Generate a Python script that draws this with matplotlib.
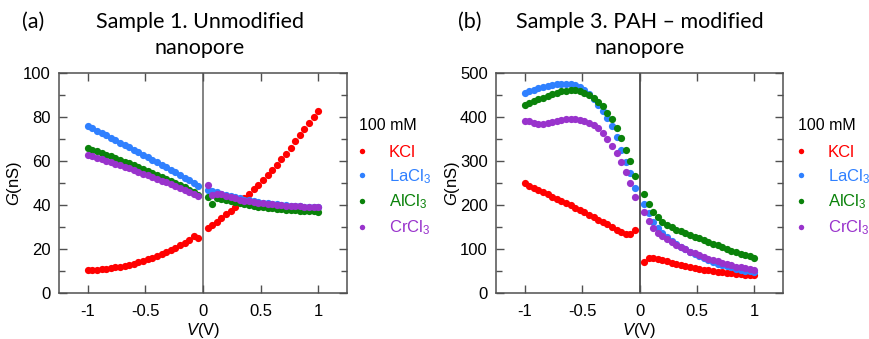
import numpy as np
import matplotlib
matplotlib.use("Agg")
import matplotlib.pyplot as plt

plt.rcParams['font.family'] = ['Liberation Sans', 'DejaVu Sans']
plt.rcParams['mathtext.fontset'] = 'custom'
plt.rcParams['mathtext.rm'] = 'Liberation Sans'
plt.rcParams['mathtext.it'] = 'Liberation Sans:italic'

# -------------------------------------------------------
# DATA
# -------------------------------------------------------

v_neg = [-1.00, -0.96, -0.92, -0.88, -0.84, -0.80, -0.76, -0.72, -0.68,
         -0.64, -0.60, -0.56, -0.52, -0.48, -0.44, -0.40, -0.36, -0.32,
         -0.28, -0.24, -0.20, -0.16, -0.12, -0.08, -0.04]
v_pos = [0.04, 0.08, 0.12, 0.16, 0.20, 0.24, 0.28, 0.32, 0.36, 0.40,
         0.44, 0.48, 0.52, 0.56, 0.60, 0.64, 0.68, 0.72, 0.76, 0.80,
         0.84, 0.88, 0.92, 0.96, 1.00]
voltage = v_neg + v_pos

salts = ["KCl", "LaCl$_3$", "AlCl$_3$", "CrCl$_3$"]
colors = ["#ff0000", "#2f80ff", "#0a820a", "#9933cc"]

# Sample 1, unmodified nanopore
a_kcl = [10.4, 10.5, 10.6, 10.8, 11.0, 11.3, 11.6, 12.0, 12.4, 12.9, 13.4,
         14.0, 14.6, 15.3, 16.0, 16.8, 17.6, 18.5, 19.5, 20.5, 21.6, 22.8,
         24.0, 25.7, 25.0,
         29.7, 30.9, 32.4, 34.0, 35.7, 37.5, 39.3, 41.2, 43.2, 45.2, 47.3,
         49.3, 51.5, 53.7, 56.0, 58.4, 60.8, 63.4, 66.1, 68.9, 71.7, 74.5,
         77.3, 80.1, 82.8]
a_la = [75.8, 74.8, 73.7, 72.6, 71.6, 70.5, 69.4, 68.3, 67.3, 66.2, 65.1,
        64.0, 62.9, 61.8, 60.6, 59.5, 58.4, 57.2, 56.0, 54.8, 53.6, 52.4,
        51.2, 50.0, 48.8,
        46.8, 46.4, 45.8, 45.2, 44.6, 44.0, 43.5, 43.0, 42.5, 42.1, 41.7,
        41.4, 41.1, 40.8, 40.5, 40.3, 40.1, 39.9, 39.7, 39.6, 39.4, 39.3,
        39.2, 39.1, 39.0]
a_al = [66.0, 65.2, 64.4, 63.6, 62.9, 62.1, 61.3, 60.5, 59.7, 58.9, 58.1,
        57.2, 56.4, 55.5, 54.6, 53.7, 52.8, 51.9, 51.0, 50.0, 49.0, 48.0,
        46.9, 45.7, 44.5,
        43.7, 40.3, 43.0, 42.7, 42.2, 41.7, 41.2, 40.8, 40.4, 40.0, 39.6,
        39.3, 39.0, 38.7, 38.5, 38.3, 38.1, 37.9, 37.7, 37.6, 37.4, 37.3,
        37.2, 37.1, 37.0]
a_cr = [62.9, 62.2, 61.5, 60.8, 60.1, 59.4, 58.7, 58.0, 57.3, 56.6, 55.8,
        55.1, 54.3, 53.5, 52.7, 51.9, 51.1, 50.3, 49.5, 48.6, 47.8, 46.9,
        46.0, 45.0, 44.0,
        49.0, 44.7, 45.2, 44.8, 44.2, 43.6, 43.0, 42.5, 42.0, 41.6, 41.3,
        41.0, 40.7, 40.5, 40.3, 40.1, 39.9, 39.7, 39.6, 39.5, 39.4, 39.3,
        39.2, 39.1, 39.0]

# Sample 3, PAH-modified nanopore
b_kcl = [249, 244, 239, 234, 229, 224, 219, 214, 209, 204, 199, 194, 189,
         184, 178, 173, 167, 162, 156, 150, 144, 139, 135, 133, 143,
         70, 80, 80, 78, 75, 72, 69, 66, 63.5, 61, 59, 57, 55, 53, 51.5,
         50, 48.5, 47, 46, 45, 44, 43, 42, 41, 40]
b_la = [454, 458, 462, 465, 468, 471, 473, 475, 476, 476, 475, 473, 469,
        462, 452, 440, 428, 413, 397, 380, 355, 326, 298, 272, 239,
        203, 182, 162, 148, 137, 128, 119, 112, 105, 99, 93, 88, 83, 79,
        75, 71, 67, 64, 61, 58, 55, 53, 51, 49, 47]
b_al = [428, 432, 436, 440, 444, 448, 452, 455, 458, 460, 461, 461, 459,
        455, 450, 443, 435, 424, 410, 395, 374, 352, 326, 301, 266,
        224, 202, 184, 172, 162, 155, 149, 144, 140, 136, 132, 128, 124,
        120, 116, 112, 108, 104, 100, 96, 93, 89, 86, 83, 79]
b_cr = [391, 390, 386, 384, 384, 387, 389, 391, 393, 395, 396, 396, 394,
        391, 386, 381, 374, 363, 350, 334, 319, 298, 276, 249, 218,
        184, 163, 148, 137, 129, 122, 115, 109, 104, 99, 94, 90, 86, 82,
        78, 75, 72, 69, 66, 63, 60, 58, 56, 54, 52]

panels = [
    dict(letter="(a)", title="Sample 1. Unmodified\nnanopore",
         series=[a_kcl, a_la, a_al, a_cr], ylim=(0, 100), ymajor=20,
         zero_color="#6e6e6e"),
    dict(letter="(b)", title="Sample 3. PAH \u2013 modified\nnanopore",
         series=[b_kcl, b_la, b_al, b_cr], ylim=(0, 500), ymajor=100,
         zero_color="#3c3c3c"),
]

# -------------------------------------------------------
# PLOT
# -------------------------------------------------------

fig = plt.figure(figsize=(8.69, 3.39), dpi=100)

ax_rects = [[59 / 869, 46 / 339, 288 / 869, 220 / 339],
            [496 / 869, 46 / 339, 287 / 869, 220 / 339]]
legend_x = [357 / 869, 796 / 869]
letter_x = [22 / 869, 458 / 869]
title_x = [200 / 869, 640 / 869]
spine_col = "#505050"

for rect, p, tx, lgx, lx in zip(ax_rects, panels, title_x, legend_x, letter_x):
    ax = fig.add_axes(rect)

    ax.axvline(0, color=p["zero_color"], lw=1.2, zorder=1)

    for vals, name, col in zip(p["series"], salts, colors):
        ax.plot(voltage, vals, 'o', ms=5.2, mec='none', color=col,
                label=name, zorder=3)

    ax.set_xlim(-1.25, 1.25)
    ax.set_ylim(*p["ylim"])
    ax.set_xticks([-1, -0.5, 0, 0.5, 1])
    ax.set_xticklabels(["-1", "-0.5", "0", "0.5", "1"])
    ax.set_yticks(np.arange(p["ylim"][0], p["ylim"][1] + 1, p["ymajor"]))
    ax.set_yticks(np.arange(p["ylim"][0], p["ylim"][1] + 1, p["ymajor"] / 2),
                  minor=True)
    ax.tick_params(which='both', direction='in', top=True, right=True,
                   color=spine_col, labelsize=12, width=1)
    ax.tick_params(which='major', length=6)
    ax.tick_params(axis='x', which='major', pad=8)
    ax.tick_params(axis='y', which='major', pad=6)
    ax.tick_params(which='minor', length=4)
    ax.tick_params(axis='x', which='minor', bottom=False, top=False)
    for s in ax.spines.values():
        s.set_color(spine_col)
        s.set_linewidth(1.1)

    ax.set_xlabel("$V$(V)", fontsize=12, labelpad=1)
    ax.set_ylabel("$G$(nS)", fontsize=12)
    ax.yaxis.set_label_coords(-0.12, 0.5)

    fig.text(lgx + 2 / 869, 1 - 125 / 339, "100 mM", fontsize=11.5,
             va='center', ha='left')
    leg = ax.legend(loc='upper left',
                    bbox_to_anchor=(lgx, 1 - 145 / 339),
                    bbox_transform=fig.transFigure, frameon=False,
                    fontsize=12, markerscale=0.75,
                    handlelength=0.6, handletextpad=1.3, labelspacing=0.42,
                    labelcolor='markerfacecolor', borderaxespad=0,
                    borderpad=0)

    fig.text(lx, 1 - 22 / 339, p["letter"], fontsize=15.5, family='Lato',
             va='center', ha='left')
    line1, line2 = p["title"].split("\n")
    fig.text(tx, 1 - 22 / 339, line1, fontsize=15.5, family='Lato',
             va='center', ha='center')
    fig.text(tx, 1 - 48 / 339, line2, fontsize=15.5, family='Lato',
             va='center', ha='center')

fig.savefig("out.png", dpi=100)
